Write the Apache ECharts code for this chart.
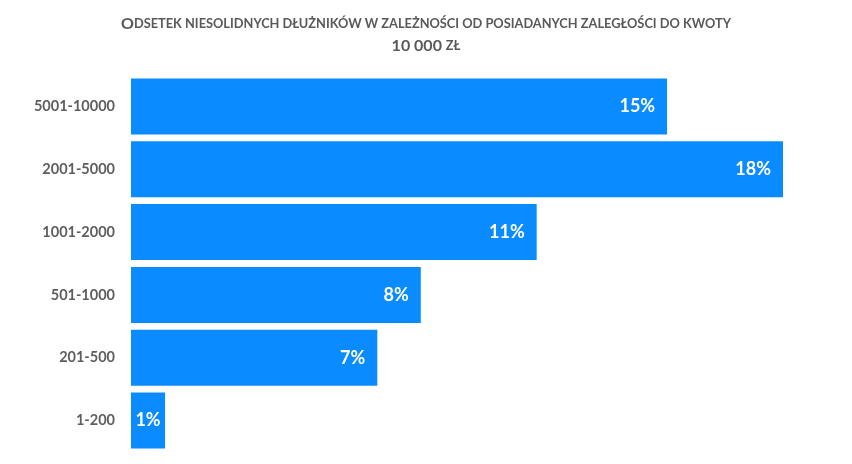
<!DOCTYPE html>
<html><head><meta charset="utf-8">
<script src="https://cdn.jsdelivr.net/npm/echarts@6/dist/echarts.min.js"></script>
<style>html,body{margin:0;padding:0;background:#fff}#c{width:852px;height:464px}</style>
</head><body><div id="c"></div>
<script>
const categories = ['1-200','201-500','501-1000','1001-2000','2001-5000','5001-10000'];
const values = [0.94, 6.8, 8.0, 11.2, 18.0, 14.8];
const chart = echarts.init(document.getElementById('c'));
const FONT = 'Lato';
chart.setOption({
  backgroundColor: '#ffffff',
  animation: false,
  title: {
    left: 'center', top: 8,
    text: '{c|O}{s|DSETEK NIESOLIDNYCH DŁUŻNIKÓW W ZALEŻNOŚCI OD POSIADANYCH ZALEGŁOŚCI DO KWOTY}\n{c|10 000 }{s|ZŁ}',
    textStyle: {
      rich: {
        c: {fontFamily: FONT, fontSize: 16, fontWeight: 'bold', color: '#595959', lineHeight: 22},
        s: {fontFamily: FONT, fontSize: 12.8, fontWeight: 'bold', color: '#595959', lineHeight: 22}
      }
    }
  },
  grid: {left: 131, right: 69, top: 75, height: 377},
  xAxis: {type: 'value', min: 0, max: 18, show: false},
  yAxis: {
    type: 'category', data: categories,
    axisLine: {show: false}, axisTick: {show: false},
    axisLabel: {margin: 16, color: '#5e5e5e', fontFamily: FONT, fontWeight: 'bold', fontSize: 14.5}
  },
  series: [{
    type: 'bar',
    data: values.map(v => v < 2 ? {value: v, label: {position: 'inside'}} : v),
    barCategoryGap: '11%',
    itemStyle: {color: '#0a8bff'},
    label: {
      show: true, position: 'insideRight', distance: 12,
      formatter: p => Math.round(p.value) + '%',
      color: '#ffffff', fontFamily: FONT, fontWeight: 'bold', fontSize: 18
    }
  }]
});
</script></body></html>
